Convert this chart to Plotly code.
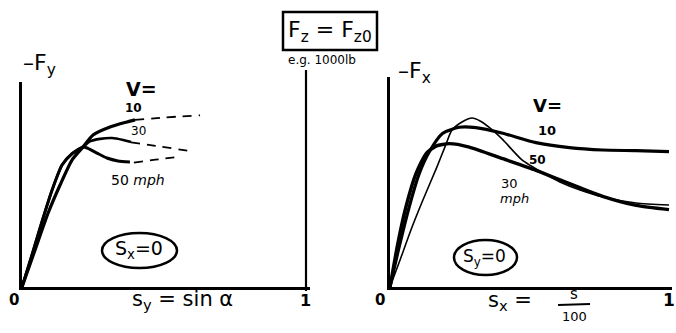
import plotly.graph_objects as go

W, H = 676, 333

# ---- lateral force vs lateral slip (s_x = 0) ----
sy_10 = [0, .046, .092, .134, .176, .215, .250, .310, .370, .398]
fy_10 = [0, .217, .433, .597, .743, .820, .890, .937, .966, .978]
sy_10_ext = [.398, .500, .627]
fy_10_ext = [.978, .992, 1.005]

sy_30 = [0, .035, .070, .106, .141, .176, .215, .239, .275, .317, .356, .384]
fy_30 = [0, .187, .381, .568, .714, .780, .820, .852, .867, .872, .861, .849]
sy_30_ext = [.384, .470, .592]
fy_30_ext = [.846, .826, .796]

sy_50 = [0, .035, .070, .106, .141, .176, .215, .232, .264, .299, .338, .380]
fy_50 = [0, .187, .381, .568, .714, .780, .820, .812, .784, .755, .738, .732]
sy_50_ext = [.394, .470, .556]
fy_50_ext = [.728, .745, .763]

# ---- longitudinal force vs longitudinal slip (s_y = 0) ----
sx_10 = [0, .033, .069, .105, .141, .189, .248, .308, .404, .523, .643, .762, .882, 1.0]
fx_10 = [0, .236, .470, .665, .792, .900, .935, .933, .900, .845, .816, .802, .798, .792]

sx_30 = [0, .028, .057, .093, .129, .165, .213, .284, .404, .523, .643, .762, .882, 1.0]
fx_30 = [0, .254, .468, .663, .780, .825, .839, .819, .751, .683, .605, .531, .478, .453]

sx_50 = [0, .036, .075, .118, .168, .197, .222, .258, .294, .323, .358, .405, .473,
         .548, .609, .681, .763, .882, 1.0]
fx_50 = [0, .158, .334, .509, .702, .820, .919, .966, .989, .972, .931, .861, .744,
         .668, .615, .568, .527, .492, .480]

FONT = "DejaVu Sans"
INK = "black"

fig = go.Figure()


def curve(x, y, xa, ya, width=3.2, dash="solid"):
    fig.add_trace(go.Scatter(
        x=x, y=y, xaxis=xa, yaxis=ya, mode="lines",
        line=dict(color=INK, width=width, dash=dash, shape="spline", smoothing=0.6),
        hoverinfo="skip", showlegend=False))


DASH = "9px,7px"
curve(sy_10, fy_10, "x", "y", width=3.2)
curve(sy_10_ext, fy_10_ext, "x", "y", width=1.8, dash=DASH)
curve(sy_30, fy_30, "x", "y", width=2.6)
curve(sy_30_ext, fy_30_ext, "x", "y", width=1.8, dash=DASH)
curve(sy_50, fy_50, "x", "y", width=3.0)
curve(sy_50_ext, fy_50_ext, "x", "y", width=1.8, dash=DASH)

curve(sx_10, fx_10, "x2", "y2", width=3.2)
curve(sx_30, fx_30, "x2", "y2", width=3.4)
curve(sx_50, fx_50, "x2", "y2", width=1.6)


def px(x):
    return x / W


def py(y):
    return 1 - y / H


axis_common = dict(showline=True, linewidth=3, linecolor=INK, showgrid=False,
                   zeroline=False, showticklabels=False, ticks="", fixedrange=True)

fig.update_layout(
    width=W, height=H, margin=dict(l=0, r=0, t=0, b=0),
    paper_bgcolor="white", plot_bgcolor="white",
    xaxis=dict(domain=[px(22), px(310)], range=[0, 288 / 284], anchor="y", **axis_common),
    yaxis=dict(domain=[py(287), py(82)], range=[0, 1.2], anchor="x", **axis_common),
    xaxis2=dict(domain=[px(390), px(672)], range=[0, 282 / 279], anchor="y2", **axis_common),
    yaxis2=dict(domain=[py(287), py(77)], range=[0, 1.2293], anchor="x2", **axis_common),
)

shapes = [
    # s_y = 1 boundary line of the left graph
    dict(type="line", xref="x", yref="paper", x0=1, x1=1, y0=py(291), y1=py(70),
         line=dict(color=INK, width=2.2)),
    # F_z = F_z0 box
    dict(type="rect", xref="paper", yref="paper", x0=px(283), x1=px(377),
         y0=py(50), y1=py(12), line=dict(color=INK, width=2.5)),
    # s_x = 0 ellipse
    dict(type="circle", xref="paper", yref="paper", x0=px(102), x1=px(177),
         y0=py(268), y1=py(233), line=dict(color=INK, width=2.5)),
    # s_y = 0 ellipse
    dict(type="circle", xref="paper", yref="paper", x0=px(454), x1=px(517),
         y0=py(275), y1=py(240), line=dict(color=INK, width=2.5)),
    # fraction bar of s/100
    dict(type="line", xref="paper", yref="paper", x0=px(558), x1=px(590),
         y0=py(305), y1=py(304), line=dict(color=INK, width=1.8)),
]
fig.update_layout(shapes=shapes)


def label(text, x, y, size, weight="bold", style="normal", anchor="center"):
    fig.add_annotation(text=text, xref="paper", yref="paper", x=px(x), y=py(y),
                       xanchor=anchor, yanchor="middle", showarrow=False,
                       font=dict(family=FONT, size=size, color=INK,
                                 weight=weight, style=style))


# header
label("F<sub>z</sub> = F<sub>z0</sub>", 330, 31, 22, weight="normal")
label("e.g. 1000lb", 322, 60, 12, weight="normal")

# left graph
label("–F<sub>y</sub>", 39, 64, 22, weight="normal")
label("V=", 141, 89, 19)
label("10", 133, 108, 12)
label("30", 138, 131, 12, weight="normal")
label("50 <i>mph</i>", 138, 180, 14, weight="normal")
label("S<sub>x</sub>=0", 139, 250, 19, weight="normal")
label("0", 14, 300, 15)
label("1", 305, 300, 16)
label("s<sub>y</sub> = sin α", 182, 300, 21, weight="normal")

# right graph
label("–F<sub>x</sub>", 414, 72, 22, weight="normal")
label("V=", 547, 106, 18)
label("10", 547, 130, 13)
label("50", 537, 160, 12)
label("30", 509, 183, 13, weight="normal")
label("<i>mph</i>", 514, 198, 13, weight="normal")
label("S<sub>y</sub>=0", 485, 257, 17, weight="normal")
label("0", 380, 300, 15)
label("1", 669, 300, 17)
label("s<sub>x</sub> =", 510, 301, 21, weight="normal")
label("s", 574, 294, 15, weight="normal")
label("100", 574, 316, 13, weight="normal")

fig.write_html("out.html")
